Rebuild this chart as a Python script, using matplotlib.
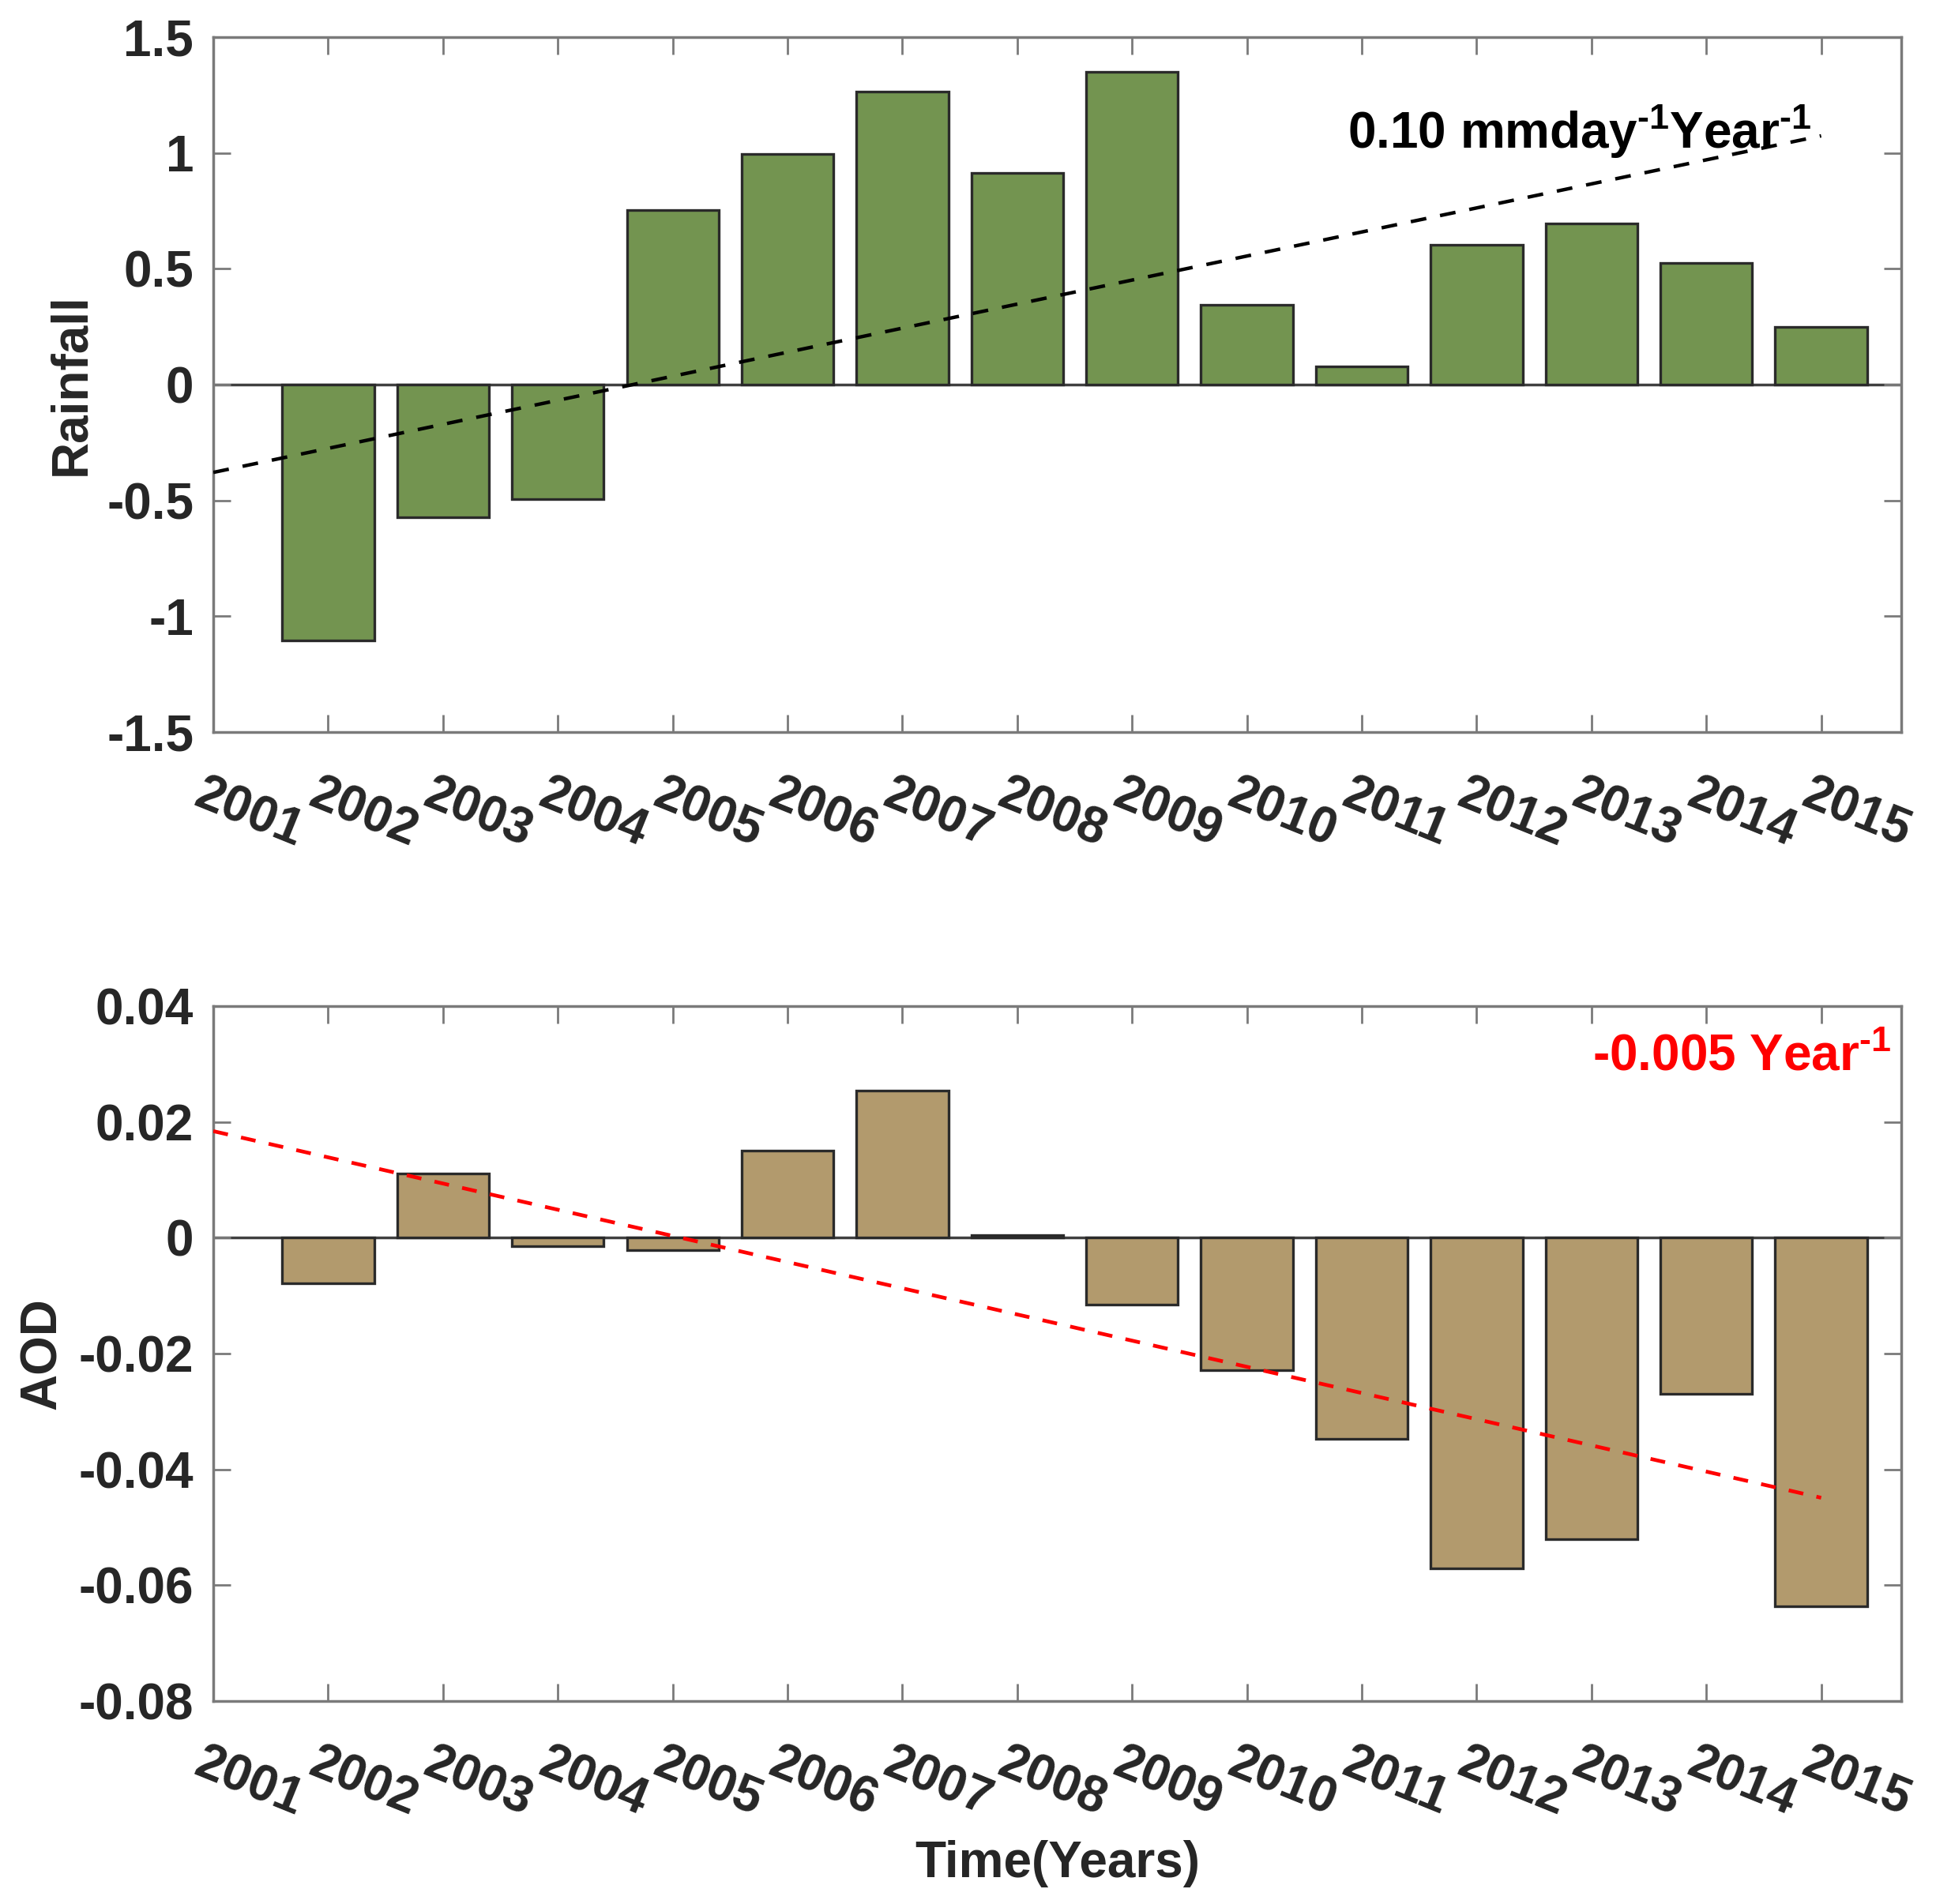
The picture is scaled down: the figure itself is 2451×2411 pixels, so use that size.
import matplotlib
matplotlib.use("Agg")
import matplotlib.pyplot as plt
import matplotlib.transforms as mtrans
import numpy as np

plt.rcParams['font.family'] = ['Liberation Sans', 'DejaVu Sans']
plt.rcParams['font.weight'] = 'bold'
plt.rcParams['axes.labelweight'] = 'bold'
plt.rcParams['mathtext.fontset'] = 'custom'
plt.rcParams['mathtext.rm'] = 'Liberation Sans:bold'
plt.rcParams['mathtext.default'] = 'rm'

# data
year_labels = [str(y) for y in range(2001, 2016)]
bar_pos = list(range(1, 15))
rainfall = [-1.105, -0.573, -0.493, 0.754, 0.994, 1.265, 0.914, 1.351,
            0.344, 0.077, 0.605, 0.695, 0.525, 0.248]
aod = [-0.0079, 0.0111, -0.0015, -0.0021, 0.0151, 0.0254, 0.0004, -0.0115,
       -0.0228, -0.0347, -0.0571, -0.0520, -0.0269, -0.0637]

rain_trend_x = [0, 14]
rain_trend_y = [-0.379, 1.074]
aod_trend_x = [0, 14]
aod_trend_y = [0.0184, -0.0449]

rain_ticks = [-1.5, -1, -0.5, 0, 0.5, 1, 1.5]
aod_ticks = [-0.08, -0.06, -0.04, -0.02, 0, 0.02, 0.04]

green = '#739450'
tan = '#B29A6D'
txt = '#262626'
axcol = '#7a7a7a'
FS = 46

fig = plt.figure(figsize=(24.51, 24.11), dpi=100)
ax1 = fig.add_axes([0.1102, 0.6155, 0.872, 0.365])
ax2 = fig.add_axes([0.1102, 0.1066, 0.872, 0.365])


def style(ax, yticks, ylim):
    ax.set_xlim(0, 14.7)
    ax.set_ylim(ylim)
    ax.set_yticks(yticks)
    ax.set_yticklabels(['%g' % t for t in yticks])
    ax.set_xticks(range(15))
    ax.set_xticklabels(year_labels, rotation=-22, ha='left', va='top',
                       rotation_mode='anchor')
    ax.tick_params(axis='both', direction='in', length=16, width=2,
                   color=axcol, labelsize=FS, labelcolor=txt,
                   top=True, right=True)
    ax.tick_params(axis='y', pad=18)
    ax.tick_params(axis='x', pad=35)
    off = mtrans.ScaledTranslation(-0.1, 0, fig.dpi_scale_trans)
    for lab in ax.get_xticklabels():
        lab.set_transform(lab.get_transform() + off)
    for sp in ax.spines.values():
        sp.set_color(axcol)
        sp.set_linewidth(2.5)
    ax.axhline(0, color='#404040', lw=2.5, zorder=1)


ax1.bar(bar_pos, rainfall, width=0.8, color=green, edgecolor='#2a2a2a',
        linewidth=2.4, zorder=2)
ax1.plot(rain_trend_x, rain_trend_y, color='black', lw=3.2,
         linestyle=(0, (4.5, 4)), zorder=3)
style(ax1, rain_ticks, (-1.5, 1.5))
ax1.set_ylabel('Rainfall', fontsize=FS, color=txt)
ax1.yaxis.set_label_coords(-0.070, 0.5)
ax1.text(13.92, 1.02, r'0.10 mmday$^{\text{-1}}$Year$^{\text{-1}}$',
         fontsize=FS, color='black', ha='right', va='baseline', zorder=4)

ax2.bar(bar_pos, aod, width=0.8, color=tan, edgecolor='#2a2a2a',
        linewidth=2.4, zorder=2)
ax2.plot(aod_trend_x, aod_trend_y, color='red', lw=3.4,
         linestyle=(0, (4, 3.6)), zorder=3)
style(ax2, aod_ticks, (-0.08, 0.04))
ax2.set_ylabel('AOD', fontsize=FS, color=txt)
ax2.yaxis.set_label_coords(-0.087, 0.5)
ax2.set_xlabel('Time(Years)', fontsize=FS, color=txt)
ax2.xaxis.set_label_coords(0.5, -0.2)
ax2.text(14.61, 0.0289, r'-0.005 Year$^{\text{-1}}$', fontsize=FS,
         color='red', ha='right', va='baseline', zorder=4)

fig.savefig('out.png', dpi=100, facecolor='white')
